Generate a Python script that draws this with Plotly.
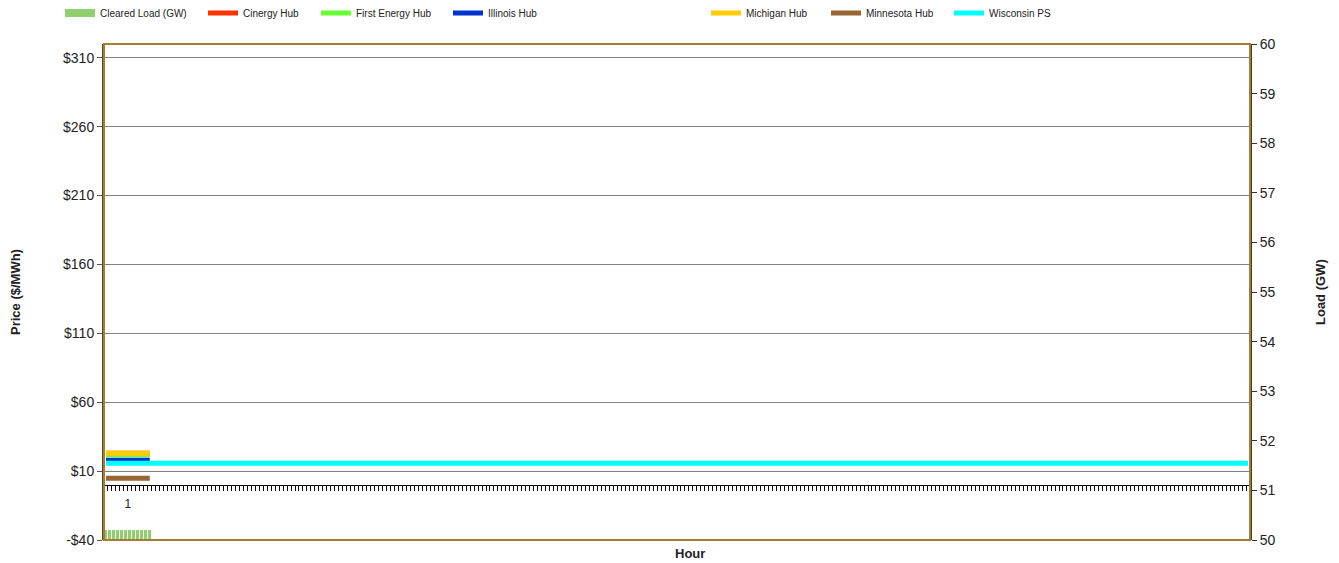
import plotly.graph_objects as go

# ---- data ----
intervals = list(range(1, 289))          # 5-minute intervals over 24 hours
first_hour = list(range(1, 13))
hour_tickvals = [6.5]
hour_ticklabels = ["1"]

cleared_load = [50.2, 50.2, 50.2, 50.2, 50.2, 50.2, 50.2, 50.2, 50.2, 50.2, 50.2, 50.2]
cinergy = [23.0, 23.0, 23.0, 23.0, 23.0, 23.0, 23.0, 23.0, 23.0, 23.0, 23.0, 23.0]
first_energy = [21.8, 21.8, 21.8, 21.8, 21.8, 21.8, 21.8, 21.8, 21.8, 21.8, 21.8, 21.8]
illinois = [17.8, 17.8, 17.8, 17.8, 17.8, 17.8, 17.8, 17.8, 17.8, 17.8, 17.8, 17.8]
michigan = [23.0, 23.0, 23.0, 23.0, 23.0, 23.0, 23.0, 23.0, 23.0, 23.0, 23.0, 23.0]
minnesota = [4.8, 4.8, 4.8, 4.8, 4.8, 4.8, 4.8, 4.8, 4.8, 4.8, 4.8, 4.8]
wisconsin = [15.7] * len(intervals)

price_tickvals = [-40, 10, 60, 110, 160, 210, 260, 310]
price_ticklabels = ["-$40", "$10", "$60", "$110", "$160", "$210", "$260", "$310"]
load_tickvals = [50, 51, 52, 53, 54, 55, 56, 57, 58, 59, 60]

FONT = "Liberation Sans, Arial, sans-serif"
L, R, T, B = 104, 89, 44, 23
W, H = 1339, 563
PW = W - L - R
PH = H - T - B

fig = go.Figure()

# Cleared load bars (secondary axis)
fig.add_trace(go.Bar(x=first_hour, y=cleared_load, yaxis="y2", width=0.5,
                     marker=dict(color="#8FCF6E", line=dict(width=0)),
                     name="Cleared Load (GW)", showlegend=False))
# legend proxy for the bar (wide swatch)
fig.add_trace(go.Scatter(x=[None], y=[None], mode="lines", name="Cleared Load (GW)",
                         line=dict(color="#8FCF6E", width=8), legend="legend"))

series = [
    ("Cinergy Hub", first_hour, cinergy, "#FF3300", "legend2"),
    ("First Energy Hub", first_hour, first_energy, "#66FF33", "legend3"),
    ("Illinois Hub", first_hour, illinois, "#0033CC", "legend4"),
    ("Michigan Hub", first_hour, michigan, "#FFCC00", "legend5"),
    ("Minnesota Hub", first_hour, minnesota, "#996633", "legend6"),
    ("Wisconsin PS", intervals, wisconsin, "#00FFFF", "legend7"),
]
for name, xs, ys, col, lg in series:
    fig.add_trace(go.Scatter(x=xs, y=ys, mode="lines", name=name,
                             line=dict(color=col, width=5), legend=lg))

# legend placement (symbol start pixels)
sym_px = [64, 207, 320, 452, 710, 830, 953]
legend_y = 1 + (T - 13) / PH
legends = {}
for i, px in enumerate(sym_px):
    key = "legend" if i == 0 else f"legend{i+1}"
    legends[key] = dict(orientation="h", x=(px - 4 - L) / PW, y=legend_y,
                        xanchor="left", yanchor="middle",
                        font=dict(family=FONT, size=10, color="#222"),
                        bgcolor="rgba(0,0,0,0)", borderwidth=0,
                        itemwidth=30, tracegroupgap=0)

fig.update_layout(
    width=W, height=H,
    margin=dict(l=L, r=R, t=T, b=B, autoexpand=False),
    paper_bgcolor="white", plot_bgcolor="white",
    font=dict(family=FONT, size=14, color="#222"),
    bargap=0,
    xaxis=dict(range=[0.5, 288.5], anchor="free", position=40 / 360,
               tickmode="array", tickvals=hour_tickvals, ticktext=hour_ticklabels,
               ticks="", ticklabelstandoff=8,
               tickfont=dict(size=12, color="#222"),
               showline=True, linecolor="black", linewidth=1,
               showgrid=False, zeroline=False,
               minor=dict(tickmode="linear", tick0=0.5, dtick=1, ticks="outside",
                          ticklen=5, tickcolor="black", tickwidth=1, showgrid=False)),
    yaxis=dict(range=[-40, 320], tickmode="array", tickvals=price_tickvals,
               ticktext=price_ticklabels, ticks="outside", ticklen=5,
               tickcolor="#555", showgrid=True, gridcolor="#808080", gridwidth=1,
               zeroline=False, showline=True, linecolor="#5C4420", linewidth=2,
               tickfont=dict(size=14, color="#222")),
    yaxis2=dict(range=[50, 60], overlaying="y", side="right", tickmode="array",
                tickvals=load_tickvals, ticks="outside", ticklen=5, tickcolor="#333",
                showgrid=False, zeroline=False, showline=True,
                linecolor="#4B3A1E", linewidth=2, tickfont=dict(size=14, color="#222")),
    **legends,
)

fig.add_shape(type="rect", xref="paper", yref="paper", x0=0, x1=1, y0=0, y1=1,
              line=dict(color="#A47D32", width=2), layer="above")

fig.add_annotation(text="<b>Price ($/MWh)</b>", xref="paper", yref="paper",
                   x=(15 - L) / PW, y=0.5, textangle=-90, showarrow=False,
                   xanchor="center", yanchor="middle", font=dict(size=13))
fig.add_annotation(text="<b>Load (GW)</b>", xref="paper", yref="paper",
                   x=(1320 - L) / PW, y=0.5, textangle=-90, showarrow=False,
                   xanchor="center", yanchor="middle", font=dict(size=13))
fig.add_annotation(text="<b>Hour</b>", xref="paper", yref="paper",
                   x=(690 - L) / PW, y=-(553 - (T + PH)) / PH, showarrow=False,
                   xanchor="center", yanchor="middle", font=dict(size=13))

fig.write_html("out.html", config={"displayModeBar": False},
               post_script="document.body.style.margin='0';document.body.style.overflow='hidden';")
